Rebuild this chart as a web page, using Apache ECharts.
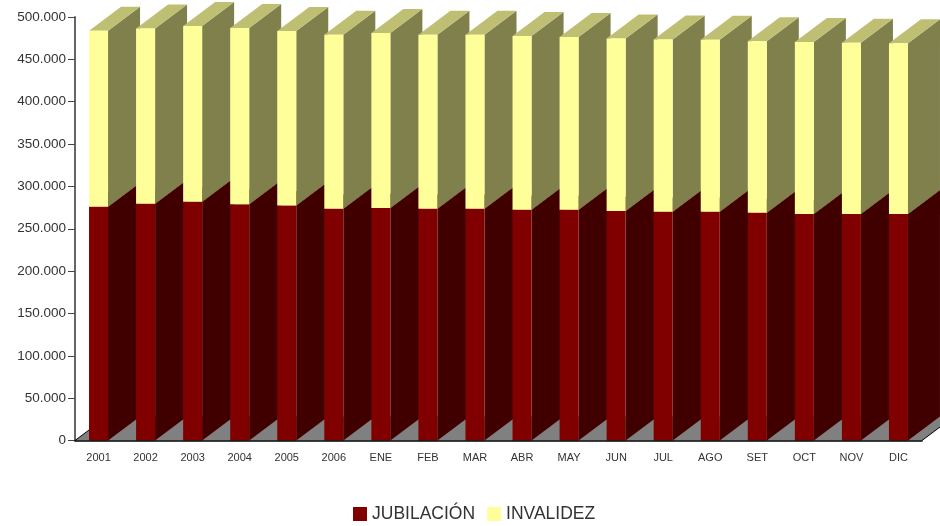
<!DOCTYPE html>
<html>
<head>
<meta charset="utf-8">
<style>html,body{margin:0;padding:0;background:#fff}#chart{width:940px;height:526px}</style>
<script src="https://cdn.jsdelivr.net/npm/echarts@6/dist/echarts.min.js"></script>
</head>
<body>
<div id="chart"></div>
<script>
var categories = ['2001','2002','2003','2004','2005','2006','ENE','FEB','MAR','ABR','MAY','JUN','JUL','AGO','SET','OCT','NOV','DIC'];
var jubilacion = [276000,279500,282000,279000,277500,273500,274500,273500,273500,272500,272500,271000,270000,270000,269000,267500,267500,267500];
var invalidez = [207800,206900,207500,208000,206000,205500,206500,205500,205500,205000,204000,203500,203500,203000,202500,203000,202000,201500];

var DEPTH_X = 32;
var DEPTH_Y = -24;
var BAR_RATIO = 0.404;

function polygon(points, fill) {
  return { type: 'polygon', shape: { points: points }, style: { fill: fill }, silent: true };
}

// caja 3D: frente, lado y tapa
function renderBox(colors) {
  return function (params, api) {
    var cell = api.size([1, 0])[0];
    var low = api.coord([api.value(0), api.value(1)]);
    var high = api.coord([api.value(0), api.value(2)]);
    var w = cell * BAR_RATIO;
    var x0 = low[0] - w / 2;
    var x1 = low[0] + w / 2;
    return {
      type: 'group',
      children: [
        polygon([[x1, high[1]], [x1 + DEPTH_X, high[1] + DEPTH_Y], [x1 + DEPTH_X, low[1] + DEPTH_Y], [x1, low[1]]], colors.side),
        polygon([[x0, high[1]], [x0 + DEPTH_X, high[1] + DEPTH_Y], [x1 + DEPTH_X, high[1] + DEPTH_Y], [x1, high[1]]], colors.top),
        polygon([[x0, high[1]], [x1, high[1]], [x1, low[1]], [x0, low[1]]], colors.front)
      ]
    };
  };
}

// piso gris con sus bordes diagonales
function renderFloor(params, api) {
  var g = params.coordSys;
  var y = g.y + g.height;
  var xr = g.x + g.width;
  var lineStyle = { stroke: '#000', lineWidth: 1, fill: null };
  return {
    type: 'group',
    children: [
      polygon([[g.x, y], [g.x + DEPTH_X, y + DEPTH_Y], [xr + DEPTH_X, y + DEPTH_Y], [xr, y]], '#808080'),
      { type: 'line', shape: { x1: g.x, y1: y, x2: g.x + DEPTH_X, y2: y + DEPTH_Y }, style: lineStyle, silent: true },
      { type: 'line', shape: { x1: xr, y1: y, x2: xr + DEPTH_X, y2: y + DEPTH_Y }, style: lineStyle, silent: true }
    ]
  };
}

var lowerData = categories.map(function (c, i) { return [c, 0, jubilacion[i]]; });
var upperData = categories.map(function (c, i) { return [c, jubilacion[i], jubilacion[i] + invalidez[i]]; });

var chart = echarts.init(document.getElementById('chart'));
chart.setOption({
  animation: false,
  textStyle: { fontFamily: 'Liberation Sans' },
  grid: { left: 75, top: 17, width: 847, height: 423.5 },
  legend: {
    left: 353,
    top: 505,
    padding: 0,
    icon: 'rect',
    itemWidth: 14,
    itemHeight: 14,
    itemGap: 12,
    selectedMode: false,
    data: ['JUBILACIÓN', 'INVALIDEZ'],
    textStyle: { fontSize: 17.5, color: '#333', fontFamily: 'Liberation Sans' }
  },
  xAxis: {
    type: 'category',
    data: categories,
    axisLine: { lineStyle: { color: '#000', width: 1.5 } },
    axisTick: { length: 7, lineStyle: { color: '#444' } },
    axisLabel: { fontSize: 11, color: '#333', margin: 12, interval: 0 },
    z: 5
  },
  yAxis: {
    type: 'value',
    min: 0,
    max: 500000,
    interval: 50000,
    splitLine: { show: false },
    axisLine: { show: true, lineStyle: { color: '#666', width: 2 } },
    axisTick: { show: true, length: 7, lineStyle: { color: '#444' } },
    axisLabel: {
      fontSize: 13.5,
      color: '#333',
      margin: 9,
      formatter: function (v) {
        return String(v).replace(/\B(?=(\d{3})+(?!\d))/g, '.');
      }
    }
  },
  series: [
    {
      name: 'piso',
      type: 'custom',
      renderItem: renderFloor,
      data: [[categories[0], 0, 0]],
      clip: false,
      z: 1
    },
    {
      name: 'JUBILACIÓN',
      type: 'custom',
      renderItem: renderBox({ front: '#800000', side: '#400000', top: '#600000' }),
      data: lowerData,
      itemStyle: { color: '#800000' },
      encode: { x: 0, y: [1, 2] },
      clip: false,
      z: 2
    },
    {
      name: 'INVALIDEZ',
      type: 'custom',
      renderItem: renderBox({ front: '#FFFF99', side: '#80804D', top: '#BFBF73' }),
      data: upperData,
      itemStyle: { color: '#FFFF99' },
      encode: { x: 0, y: [1, 2] },
      clip: false,
      z: 3
    }
  ]
});
</script>
</body>
</html>
